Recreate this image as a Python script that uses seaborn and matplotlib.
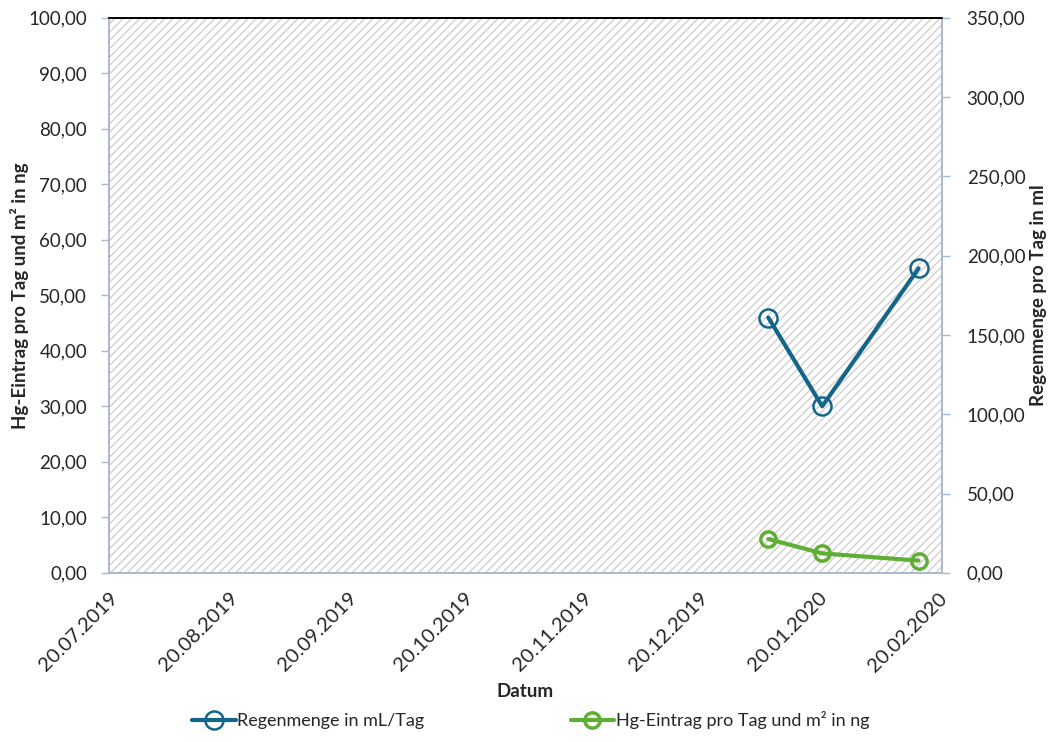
import matplotlib
matplotlib.use("Agg")
import matplotlib.pyplot as plt
import matplotlib.dates as mdates
from matplotlib.ticker import FuncFormatter, MultipleLocator
from matplotlib.patches import Rectangle
import seaborn as sns
import pandas as pd

# data
dates = ["2020-01-07", "2020-01-21", "2020-02-15"]
regen = [161.0, 105.0, 192.0]      # Regenmenge in mL/Tag (right axis)
hg = [6.1, 3.5, 2.2]               # Hg-Eintrag pro Tag und m² in ng (left axis)
tick_dates = ["2019-07-20", "2019-08-20", "2019-09-20", "2019-10-20",
              "2019-11-20", "2019-12-20", "2020-01-20", "2020-02-20"]

df = pd.DataFrame({"Datum": pd.to_datetime(dates), "regen": regen, "hg": hg})

sns.set_style("white")
plt.rcParams['font.family'] = ['Lato', 'DejaVu Sans']
plt.rcParams['hatch.linewidth'] = 0.9
plt.rcParams['hatch.color'] = '#cccccc'

blue = '#14658a'
green = '#5fae35'
axcol = '#a9bacb'

fig, ax1 = plt.subplots(figsize=(10.51, 7.42), dpi=100)
fig.subplots_adjust(left=0.104, right=0.896, top=0.976, bottom=0.228)
ax2 = ax1.twinx()

# hatched background
ax1.add_patch(Rectangle((0, 0), 1, 1, transform=ax1.transAxes, facecolor='white',
                        edgecolor='#cccccc', hatch='////', linewidth=0, zorder=0))

sns.lineplot(data=df, x="Datum", y="hg", ax=ax1, color=green, linewidth=3,
             marker='o', markersize=11, markerfacecolor='none', markeredgecolor=green,
             markeredgewidth=2.5, label="Hg-Eintrag pro Tag und m² in ng", legend=False)
sns.lineplot(data=df, x="Datum", y="regen", ax=ax2, color=blue, linewidth=3,
             marker='o', markersize=13, markerfacecolor='none', markeredgecolor=blue,
             markeredgewidth=1.8, label="Regenmenge in mL/Tag", legend=False)

fmt = FuncFormatter(lambda v, p: f"{v:.2f}".replace(".", ","))
ax1.set_ylim(0, 100)
ax1.yaxis.set_major_locator(MultipleLocator(10))
ax1.yaxis.set_major_formatter(fmt)
ax2.set_ylim(0, 350)
ax2.yaxis.set_major_locator(MultipleLocator(50))
ax2.yaxis.set_major_formatter(fmt)

ticks = pd.to_datetime(tick_dates)
ax1.set_xlim(ticks[0], ticks[-1] + pd.Timedelta(days=1))
ax1.set_xticks(ticks)
ax1.xaxis.set_major_formatter(mdates.DateFormatter("%d.%m.%Y"))
for lab in ax1.get_xticklabels():
    lab.set_rotation(45)
    lab.set_ha('right')
    lab.set_rotation_mode('anchor')

for ax in (ax1, ax2):
    for s in ax.spines.values():
        s.set_color(axcol)
        s.set_linewidth(1.2)
    ax.spines['top'].set_color('black')
    ax.tick_params(axis='both', labelsize=13.5, colors='#262626', length=6,
                   width=1, color=axcol, direction='out', pad=10)
    ax.tick_params(axis='x', length=8, pad=4, labelsize=14.5)
ax1.tick_params(axis='y', left=True)
ax2.tick_params(axis='y', right=True, pad=12)

ax1.set_xlabel("Datum", fontsize=13.5, fontweight='bold', labelpad=6)
ax1.set_ylabel("Hg-Eintrag pro Tag und m² in ng", fontsize=13.5, fontweight='bold')
ax2.set_ylabel("Regenmenge pro Tag in ml", fontsize=13.5, fontweight='bold')
ax1.yaxis.set_label_coords(-0.097, 0.5)
ax2.yaxis.set_label_coords(1.106, 0.5)

h2, l2 = ax2.get_legend_handles_labels()
h1, l1 = ax1.get_legend_handles_labels()
fig.legend(h2 + h1, l2 + l1, loc='lower center', bbox_to_anchor=(0.505, -0.005), ncol=2,
           frameon=False, fontsize=13, columnspacing=8.1, handlelength=2.4, handletextpad=0.1)

fig.savefig("out.png", dpi=100)
